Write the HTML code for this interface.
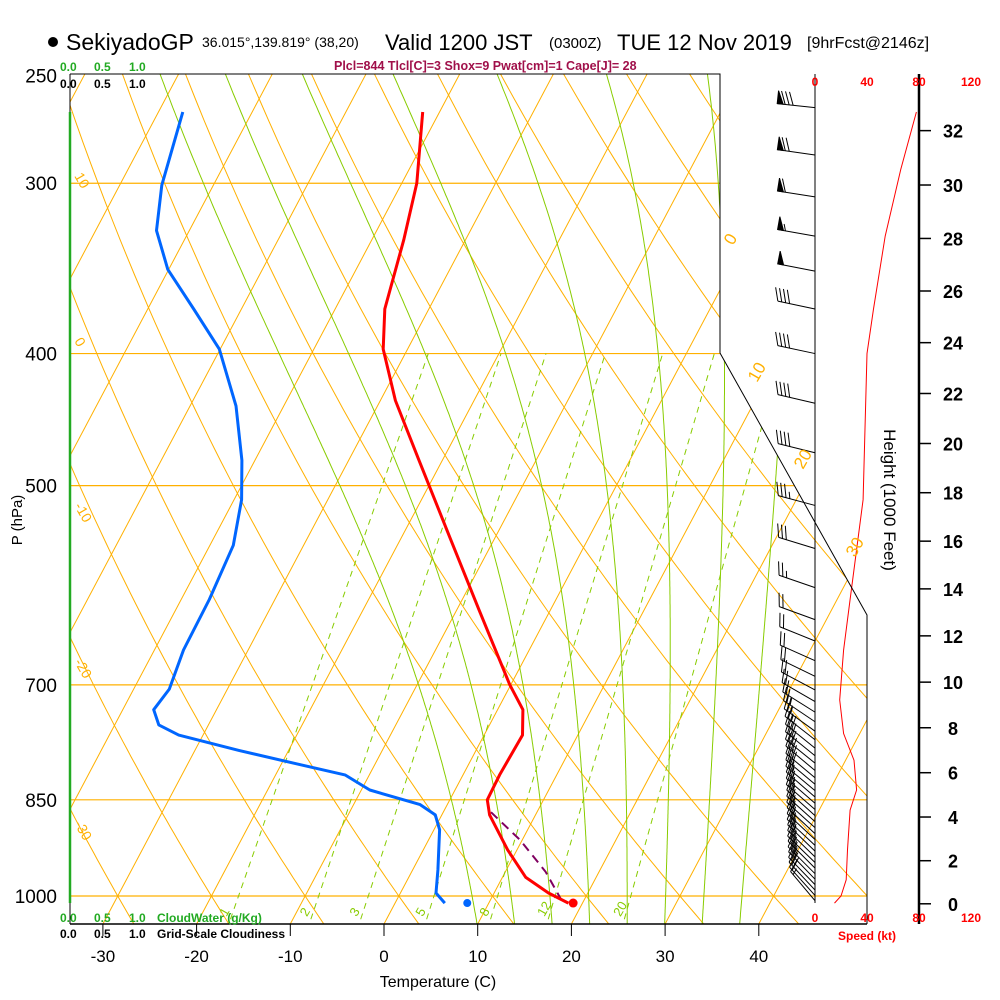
<!DOCTYPE html>
<html><head><meta charset="utf-8"><title>Skew-T SekiyadoGP</title>
<style>
html,body{margin:0;padding:0;background:#fff;}
svg{display:block;font-family:"Liberation Sans",sans-serif;}
</style></head>
<body>
<svg id="chart" width="1000" height="1000" viewBox="0 0 1000 1000" xmlns="http://www.w3.org/2000/svg">
<defs><clipPath id="plotclip"><path d="M70,74 L720,74 L720,353 L867,615 L867,924 L70,924 Z"/></clipPath></defs>
<rect width="1000" height="1000" fill="#fff"/>
<g id="grid" clip-path="url(#plotclip)"></g>
<g id="marks"></g>
<g id="frame">
  <path d="M70,74 L720,74 L720,353 L867,615 L867,924" fill="none" stroke="#000" stroke-width="1"/>
  <line x1="70" y1="74" x2="70" y2="924" stroke="#000" stroke-width="1"/>
  <line x1="70" y1="924" x2="867" y2="924" stroke="#000" stroke-width="1.5"/>
  <line x1="815" y1="74" x2="815" y2="903" stroke="#000" stroke-width="1"/>
  <line x1="919" y1="74" x2="919" y2="924" stroke="#000" stroke-width="2.5"/>
  <line x1="70" y1="112" x2="70" y2="903" stroke="#22aa22" stroke-width="2.5"/>
</g>
<g id="texts" font-family="Liberation Sans, sans-serif">
  <circle cx="53" cy="42" r="5" fill="#000"/>
  <text x="66" y="50" font-size="23">SekiyadoGP</text>
  <text x="202" y="47" font-size="14">36.015°,139.819° (38,20)</text>
  <text x="385" y="50" font-size="22">Valid 1200 JST</text>
  <text x="549" y="48" font-size="15">(0300Z)</text>
  <text x="617" y="50" font-size="22">TUE 12 Nov 2019</text>
  <text x="807" y="48" font-size="16">[9hrFcst@2146z]</text>
  <text x="334" y="70" font-size="12.5" font-weight="bold" fill="#a0104a">Plcl=844 Tlcl[C]=3 Shox=9 Pwat[cm]=1 Cape[J]= 28</text>
  <g font-size="12" font-weight="bold" fill="#22aa22">
    <text x="60" y="71">0.0</text><text x="94" y="71">0.5</text><text x="129" y="71">1.0</text>
  </g>
  <g font-size="12" font-weight="bold" fill="#000">
    <text x="60" y="88">0.0</text><text x="94" y="88">0.5</text><text x="129" y="88">1.0</text>
  </g>
  <g font-size="12" font-weight="bold" fill="#22aa22">
    <text x="60" y="922">0.0</text><text x="94" y="922">0.5</text><text x="129" y="922">1.0</text>
    <text x="157" y="922">CloudWater (g/Kg)</text>
  </g>
  <g font-size="12" font-weight="bold" fill="#000">
    <text x="60" y="938">0.0</text><text x="94" y="938">0.5</text><text x="129" y="938">1.0</text>
    <text x="157" y="938">Grid-Scale Cloudiness</text>
  </g>
  <text x="438" y="987" font-size="16" text-anchor="middle">Temperature (C)</text>
  <text transform="translate(22,520) rotate(-90)" font-size="15" text-anchor="middle">P (hPa)</text>
  <text transform="translate(884,500) rotate(90)" font-size="17" text-anchor="middle">Height (1000 Feet)</text>
  <text x="838" y="940" font-size="12" font-weight="bold" fill="#ff0000">Speed (kt)</text>
</g>
<g id="axes"></g>
</svg>
<script>
// ---------- data ----------
const tempP = [266,300,330,371,397,433,479,547,617,700,730,762,815,850,872,925,969,995,1012];
const tempC = [-41.8,-38.4,-36.6,-34.7,-32.6,-28.4,-22.5,-14.7,-7.6,-0.1,2.7,4.1,3.9,4.0,5.1,9.0,12.5,15.8,18.5];
const dewP = [266,301,325,347,371,397,437,479,512,553,606,660,705,730,749,762,782,801,815,836,857,872,894,957,995,1012];
const dewC = [-67.4,-65.5,-63.5,-60.1,-55.1,-50.1,-45.1,-41.4,-39.2,-37.5,-37.0,-36.9,-36.2,-36.7,-35.3,-32.6,-25.3,-18.0,-12.6,-9.1,-2.9,-0.7,0.6,2.7,3.8,5.3];
const parcelP = [868,910,960,1010];
const parcelC = [5.1,9.8,14.3,17.8];
const sfcP = 1012;
const sfcTemp = 19.0;
const sfcDew = 7.7;
const speedP = [266,293,328,371,400,512,606,660,718,760,795,836,865,925,973,1000,1012];
const speedKt = [78,66,54,45,40,37,27,22,19,22,30,32,27,25,24,20,15];
const barbP = [264,286,307,328,348,371,400,435,473,517,556,594,627,650,672,690,706,720,733,745,757,768,779,789,799,809,819,828,837,846,855,864,873,882,891,900,909,918,927,936,945,954,963,972,981,990,999,1008];
const barbKt = [80,70,60,55,50,40,40,40,40,35,30,25,20,20,20,20,20,20,20,25,25,25,30,30,30,30,30,30,25,25,25,25,25,25,25,25,25,25,25,25,25,25,25,25,20,20,20,15];
const barbDir = [276,278,279,280,281,282,282,283,284,285,287,289,290,292,294,296,298,300,302,304,306,308,309,309,309,310,310,310,310,311,311,311,312,312,312,313,313,313,314,314,314,315,315,316,316,317,318,320];
const isoTemps = [-110,-100,-90,-80,-70,-60,-50,-40,-30,-20,-10,0,10,20,30,40];
const thetaC = [-40,-30,-20,-10,0,10,20,30,40,50,60,70,80,90,100,110,120,130,140,150,160,170,180,190,200];
const moistBase = [10,14,18,22,26,30,34,38];
const mixRatio = [1,2,3,5,8,12,20];
const mixLabels = ["1","2","3","5","8","12","20"];
const gridP = [300,400,500,700,850,1000];
const pLabels = [250,300,400,500,700,850,1000];
const tTicks = [-30,-20,-10,0,10,20,30,40];
const hTicks = [0,2,4,6,8,10,12,14,16,18,20,22,24,26,28,30,32];
const spdTicks = [0,40,80,120];

// ---------- axis functions ----------
function Y(p){ return 896 - 592*Math.log(1000/p); }
function X(T,p){ return 384 + 9.37*T + 0.53*(924 - Y(p)); }
function XS(kt){ return 815 + 1.3*kt; }
function hToP(kft){ const z=kft*304.8; return 1013.25*Math.pow(1-2.25577e-5*z,5.25588); }

const NS="http://www.w3.org/2000/svg";
function el(tag,attrs,parent){ const e=document.createElementNS(NS,tag); for(const k in attrs) e.setAttribute(k,attrs[k]); parent.appendChild(e); return e; }
const grid=document.getElementById('grid'), marks=document.getElementById('marks'), axes=document.getElementById('axes'), svg=document.getElementById('chart');
const ORANGE="#ffb000", GREEN="#88cc00";

gridP.forEach(p=>{
  const l=el('line',{x1:70,x2:867,y1:Y(p),y2:Y(p),stroke:ORANGE,'stroke-width':1.2},grid);
  
  
});
isoTemps.forEach(t=>{
  const l=el('line',{x1:X(t,1060),y1:Y(1060),x2:X(t,240),y2:Y(240),stroke:ORANGE,'stroke-width':1},grid);
  
  
});
thetaC.forEach(th=>{
  let d="";
  for(let p=1060;p>=240;p-=10){ const T=(th+273.15)*Math.pow(p/1000,0.2857)-273.15; d+=(d?"L":"M")+X(T,p).toFixed(1)+","+Y(p).toFixed(1); }
  const pa=el('path',{d:d,fill:'none',stroke:ORANGE,'stroke-width':1},grid);
  
  
});
function dTdp(p,T){ const tc=T-273.15; const es=6.112*Math.exp(17.67*tc/(tc+243.5)); const rs=0.622*es/(p-es);
  const num=(287*T+2.5e6*rs)/p; const den=1004+(2.5e6*2.5e6*rs*0.622)/(287*T*T); return num/den; }
moistBase.forEach(t0=>{
  let T=t0+273.15, p=1050, d="M"+X(t0,p).toFixed(1)+","+Y(p).toFixed(1);
  while(p>245){ const dp=-2; T+=dTdp(p,T)*dp; p+=dp; d+="L"+X(T-273.15,p).toFixed(1)+","+Y(p).toFixed(1); }
  const pa=el('path',{d:d,fill:'none',stroke:GREEN,'stroke-width':1},grid);
  
  
});
function tdFromW(w,p){ const e=w/1000*p/(0.622+w/1000); const a=Math.log(e/6.112); return 243.5*a/(17.67-a); }
mixRatio.forEach((w,i)=>{
  const pa=el('line',{x1:X(tdFromW(w,1040),1040),y1:Y(1040),x2:X(tdFromW(w,400),400),y2:Y(400),stroke:GREEN,'stroke-width':1,'stroke-dasharray':'6,5'},grid);
  
  
  const xl=X(tdFromW(w,1040),1040);
  const tx=el('text',{x:xl-4,y:Y(1040)-2,'font-size':13,fill:GREEN,transform:'rotate(-60 '+(xl-4)+' '+(Y(1040)-2)+')'},svg);
  tx.textContent=mixLabels[i];
  
  
});
[["0",733,246],["10",757,383],["20",803,470],["30",855,558]].forEach(a=>{
  const t=el('text',{x:a[1],y:a[2],'font-size':17,fill:ORANGE,transform:'rotate(-60 '+a[1]+' '+a[2]+')'},svg);
  t.textContent=a[0];
  
  
});
[["10",74,176],["0",74,341],["-10",74,506],["-20",74,662],["-30",74,824]].forEach(a=>{
  const t=el('text',{x:a[1],y:a[2],'font-size':14,fill:ORANGE,transform:'rotate(60 '+a[1]+' '+a[2]+')'},svg);
  t.textContent=a[0];
  
  
});

function pathFrom(P,V,fx){ return P.map((p,i)=>(i?"L":"M")+fx(V[i],p).toFixed(1)+","+Y(p).toFixed(1)).join(""); }
const dew=el('path',{d:pathFrom(dewP,dewC,X),fill:'none',stroke:'#0066ff','stroke-width':3,'stroke-linejoin':'round'},marks);


const par=el('path',{d:pathFrom(parcelP,parcelC,X),fill:'none',stroke:'#800060','stroke-width':2,'stroke-dasharray':'9,6'},marks);


const tmp=el('path',{d:pathFrom(tempP,tempC,X),fill:'none',stroke:'#ff0000','stroke-width':3,'stroke-linejoin':'round'},marks);


const sd=el('circle',{cx:X(sfcDew,sfcP),cy:Y(sfcP),r:4,fill:'#0066ff'},marks);


const st=el('circle',{cx:X(sfcTemp,sfcP),cy:Y(sfcP),r:4.5,fill:'#ff0000'},marks);


const sp=el('path',{d:pathFrom(speedP,speedKt,(v,p)=>XS(v)),fill:'none',stroke:'#ff0000','stroke-width':1},marks);



barbP.forEach((p,i)=>{
  const g=el('g',{stroke:'#000','stroke-width':1,fill:'#000'},marks);
  
  
  const d=barbDir[i]*Math.PI/180, ux=Math.sin(d), uy=-Math.cos(d);
  const bx=815, by=Y(p), L=38;
  const tx=bx+ux*L, ty=by+uy*L;
  el('line',{x1:bx,y1:by,x2:tx,y2:ty},g);
  let px=uy, py=-ux; if(py>0){px=-px;py=-py;}
  let s=barbKt[i], pos=0;
  const bl=13;
  while(s>=50){ const ax=tx-ux*pos, ay=ty-uy*pos, cx=tx-ux*(pos+6), cy=ty-uy*(pos+6);
    el('polygon',{points:`${ax},${ay} ${ax+px*bl},${ay+py*bl} ${cx},${cy}`},g); pos+=8; s-=50; }
  while(s>=10){ const ax=tx-ux*pos, ay=ty-uy*pos;
    el('line',{x1:ax,y1:ay,x2:ax+px*bl+ux*5,y2:ay+py*bl+uy*5},g); pos+=4; s-=10; }
  if(s>=5){ if(pos===0) pos=4; const ax=tx-ux*pos, ay=ty-uy*pos;
    el('line',{x1:ax,y1:ay,x2:ax+px*bl*0.5+ux*2.5,y2:ay+py*bl*0.5+uy*2.5},g); }
});

pLabels.forEach(p=>{
  const t=el('text',{x:57,y:Y(p)+7,'font-size':19,'text-anchor':'end'},axes);
  t.textContent=String(p);
  
  
});
tTicks.forEach(v=>{
  const x=384+9.37*v;
  const l=el('line',{x1:x,x2:x,y1:924,y2:936,stroke:'#000'},axes);
  
  
  const t=el('text',{x:x,y:962,'font-size':17,'text-anchor':'middle'},axes);
  t.textContent=String(v);
  
  
});
hTicks.forEach(h=>{
  const y=Y(hToP(h));
  const l=el('line',{x1:919,x2:931,y1:y,y2:y,stroke:'#000','stroke-width':1.5},axes);
  
  
  const t=el('text',{x:953,y:y+7,'font-size':18,'text-anchor':'middle','font-weight':'bold'},axes);
  t.textContent=String(h);
  
  
});
spdTicks.forEach(v=>{
  [86,922].forEach(yy=>{
    const t=el('text',{x:XS(v),y:yy,'font-size':12,'text-anchor':'middle','font-weight':'bold',fill:'#ff0000'},axes);
    t.textContent=String(v);
    
    
  });
});
</script>
</body></html>
